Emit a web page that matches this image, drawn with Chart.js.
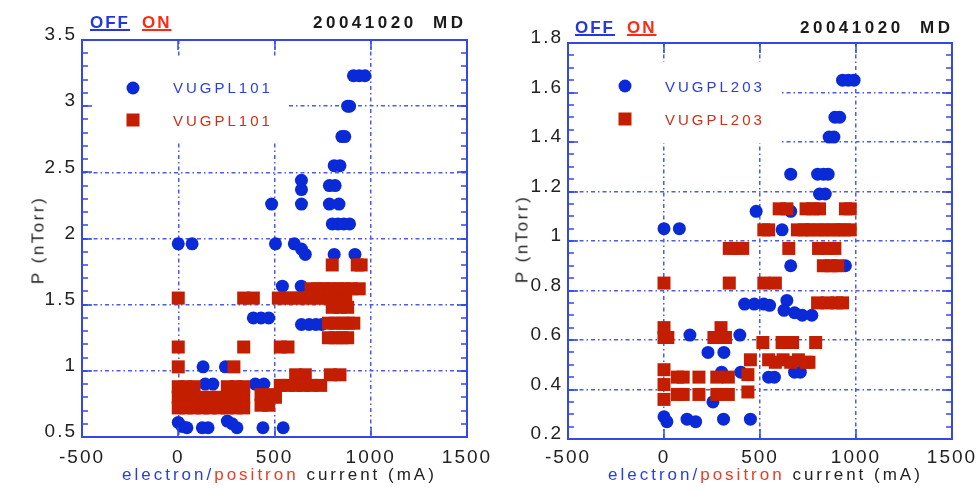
<!DOCTYPE html>
<html>
<head>
<meta charset="utf-8">
<script src="https://cdn.jsdelivr.net/npm/chart.js@4.4.1/dist/chart.umd.min.js"></script>
<style>
  body { margin: 0; width: 980px; height: 492px; overflow: hidden; position: relative; background: #fff;
         font-family: "Liberation Sans", Arial, sans-serif; }
  canvas { position: absolute; top: 0; }
  .t { position: absolute; white-space: pre; line-height: 1; }
</style>
</head>
<body>
<canvas id="left" width="490" height="492" style="left:0"></canvas>
<canvas id="right" width="490" height="492" style="left:490px"></canvas>
<script>
// ---- data: [current (mA), P (nTorr)] ----
const off101 = [
  [910,3.23],[940,3.23],[970,3.23],
  [880,3.0],[890,3.0],
  [850,2.77],[865,2.77],
  [810,2.55],[840,2.55],
  [640,2.44],[640,2.37],[785,2.40],[815,2.40],
  [485,2.26],[640,2.26],[785,2.26],[835,2.26],
  [800,2.11],[830,2.11],[860,2.11],[890,2.11],
  [0,1.96],[72,1.96],[505,1.96],[603,1.96],[640,1.92],[660,1.88],
  [810,1.88],[918,1.88],
  [541,1.64],[639,1.64],
  [390,1.40],[430,1.40],[470,1.40],
  [640,1.35],[680,1.35],[715,1.35],[745,1.35],
  [129,1.03],[245,1.03],
  [140,0.90],[180,0.90],[400,0.90],[445,0.90],
  [0,0.61],[20,0.58],[45,0.57],[125,0.57],[155,0.57],
  [255,0.62],[280,0.60],[305,0.57],[440,0.57],[545,0.57]
];
const on101 = [
  [800,1.80],[930,1.80],[950,1.80],
  [0,1.55],[340,1.55],[390,1.55],
  [520,1.55],[555,1.55],[590,1.55],[625,1.55],[660,1.55],[695,1.55],
  [730,1.55],[765,1.55],[800,1.55],[835,1.55],[870,1.55],
  [690,1.62],[725,1.62],[760,1.62],[795,1.62],[830,1.62],[865,1.62],[900,1.62],[940,1.62],
  [800,1.48],[840,1.48],[880,1.48],
  [780,1.36],[815,1.36],[850,1.36],[885,1.36],[912,1.36],
  [780,1.25],[815,1.25],[850,1.25],[880,1.25],
  [0,1.18],[340,1.18],[530,1.18],[570,1.18],
  [0,1.03],[289,1.03],
  [610,0.97],[660,0.97],[790,0.97],[840,0.97],
  [530,0.89],[570,0.89],[610,0.89],[650,0.89],[690,0.89],[740,0.89],
  [0,0.88],[40,0.88],[82,0.88],[255,0.88],[300,0.88],[340,0.88],
  [0,0.80],[40,0.80],[82,0.80],[125,0.80],[165,0.80],[210,0.80],[255,0.80],[300,0.80],[340,0.80],
  [430,0.82],[470,0.82],[505,0.80],
  [0,0.72],[40,0.72],[82,0.72],[125,0.72],[165,0.72],[210,0.72],[255,0.72],[300,0.72],[340,0.72],
  [430,0.74],[470,0.74]
];
const off203 = [
  [930,1.65],[960,1.65],[990,1.65],
  [890,1.50],[915,1.50],
  [860,1.42],[885,1.42],
  [660,1.27],[800,1.27],[830,1.27],[855,1.27],
  [810,1.19],[840,1.19],
  [480,1.12],[660,1.12],
  [0,1.05],[80,1.05],[615,1.045],[745,1.045],[910,1.045],
  [660,0.90],[945,0.90],
  [420,0.745],[470,0.745],[520,0.745],[550,0.74],
  [640,0.76],[625,0.72],[680,0.71],[720,0.70],[770,0.70],
  [135,0.62],[395,0.62],
  [229,0.55],[312,0.55],
  [300,0.47],[400,0.47],
  [545,0.45],[575,0.45],[680,0.47],[710,0.47],
  [255,0.35],
  [0,0.29],[15,0.27],[120,0.28],[165,0.27],[310,0.28],[450,0.28]
];
const on203 = [
  [600,1.13],[640,1.13],[740,1.13],[775,1.13],[810,1.13],[945,1.13],[970,1.13],
  [520,1.045],[545,1.045],[695,1.045],[730,1.045],[765,1.045],[800,1.045],
  [835,1.045],[870,1.045],[905,1.045],[940,1.045],[970,1.045],
  [340,0.97],[375,0.97],[410,0.97],[650,0.97],[805,0.97],[850,0.97],[890,0.97],
  [830,0.90],[870,0.90],[905,0.90],
  [0,0.83],[340,0.83],[520,0.83],[580,0.83],
  [800,0.75],[850,0.75],[900,0.75],[930,0.75],
  [0,0.65],[0,0.61],[20,0.61],
  [297,0.65],[260,0.61],[290,0.61],[320,0.61],
  [515,0.59],[615,0.59],[670,0.59],[790,0.59],
  [450,0.52],
  [545,0.52],[580,0.51],[620,0.52],[660,0.51],[700,0.52],[740,0.51],[755,0.51],
  [0,0.48],[0,0.42],[0,0.36],
  [70,0.45],[100,0.45],[70,0.38],[100,0.38],
  [182,0.45],[182,0.38],
  [275,0.45],[335,0.45],[275,0.38],[335,0.38],
  [437,0.46],[437,0.39]
];

const xTicks = [-500, 0, 500, 1000, 1500];
const yTicks101 = [0.5, 1, 1.5, 2, 2.5, 3, 3.5];
const yTicks203 = [0.2, 0.4, 0.6, 0.8, 1, 1.2, 1.4, 1.6, 1.8];

const BLUE = '#0a2ad8', RED = '#c41e00';
const AXIS = '#3448e4', GRID = '#4a5ce8', TXT = '#222';
const FONT = '"Liberation Sans", Arial, sans-serif';

// white legend panel under the points; inward ticks, frame and legend markers on top
function boxPlugin(yT, minor, panel, mark) {
  return {
    id: 'box',
    beforeDraw(chart) { chart.ctx.letterSpacing = '2px'; },
    beforeDatasetsDraw(chart) {
      const ctx = chart.ctx;
      ctx.save();
      ctx.fillStyle = '#fff';
      ctx.fillRect(panel[0], panel[1], panel[2] - panel[0], panel[3] - panel[1]);
      ctx.restore();
    },
    afterDraw(chart) {
      const ctx = chart.ctx;
      const a = chart.chartArea;
      const x = chart.scales.x, y = chart.scales.y;
      ctx.save();
      ctx.fillStyle = AXIS;
      const n = Math.round((yT[yT.length - 1] - yT[0]) / minor);
      for (let i = 0; i <= n; i++) {
        const p = Math.round(y.getPixelForValue(yT[0] + i * minor));
        ctx.fillRect(a.left, p - 0.75, 6, 1.5);
        ctx.fillRect(a.right - 6, p - 0.75, 6, 1.5);
      }
      yT.forEach(v => {
        const p = Math.round(y.getPixelForValue(v));
        ctx.fillRect(a.left, p - 0.75, 10, 1.5);
        ctx.fillRect(a.right - 10, p - 0.75, 10, 1.5);
      });
      xTicks.forEach(v => {
        const p = Math.round(x.getPixelForValue(v));
        ctx.fillRect(p - 0.75, a.top, 1.5, 10);
        ctx.fillRect(p - 0.75, a.bottom - 10, 1.5, 10);
      });
      ctx.strokeStyle = AXIS;
      ctx.setLineDash([]);
      ctx.lineWidth = 2;
      ctx.strokeRect(a.left, a.top, a.right - a.left, a.bottom - a.top);
      ctx.fillStyle = BLUE;
      ctx.beginPath();
      ctx.arc(mark[0], mark[1], 6.5, 0, Math.PI * 2);
      ctx.fill();
      ctx.fillStyle = RED;
      ctx.fillRect(mark[0] - 6.5, mark[2] - 6.5, 13, 13);
      ctx.restore();
    }
  };
}

function fmt(v) { return String(Math.round(v * 100) / 100); }

function makeChart(id, off, on, yT, minor, area, panel, mark) {
  return new Chart(document.getElementById(id), {
    type: 'scatter',
    data: {
      datasets: [
        { label: 'ON', data: on.map(p => ({ x: p[0], y: p[1] })), pointStyle: 'rect',
          pointRadius: 9.2, backgroundColor: RED, borderWidth: 0 },
        { label: 'OFF', data: off.map(p => ({ x: p[0], y: p[1] })), pointStyle: 'circle',
          pointRadius: 6.5, backgroundColor: BLUE, borderWidth: 0 }
      ]
    },
    options: {
      responsive: false,
      animation: false,
      events: [],
      layout: { padding: { top: area.top, right: 490 - area.right, left: 0, bottom: 0 } },
      plugins: { legend: { display: false }, tooltip: { enabled: false } },
      scales: {
        x: {
          type: 'linear', min: -500, max: 1500,
          afterBuildTicks: s => { s.ticks = xTicks.map(v => ({ value: v })); },
          afterFit: s => { s.height = 492 - area.bottom; s.paddingLeft = 0; s.paddingRight = 0; },
          grid: { color: GRID, lineWidth: 1.5, drawTicks: false },
          border: { display: false, dash: [4, 3, 1.5, 3] },
          ticks: { padding: area.xPad, color: TXT, font: { family: FONT, size: 19 },
                   autoSkip: false, maxRotation: 0, callback: v => fmt(v) }
        },
        y: {
          type: 'linear', min: yT[0], max: yT[yT.length - 1],
          afterBuildTicks: s => { s.ticks = yT.map(v => ({ value: v })); },
          afterFit: s => { s.width = area.left; s.paddingTop = 0; s.paddingBottom = 0; },
          grid: { color: GRID, lineWidth: 1.5, drawTicks: false },
          border: { display: false, dash: [4, 3, 1.5, 3] },
          ticks: { padding: 5, labelOffset: -5, color: TXT, font: { family: FONT, size: 19 },
                   autoSkip: false, callback: v => fmt(v) }
        }
      }
    },
    plugins: [boxPlugin(yT, minor, panel, mark)]
  });
}

makeChart('left', off101, on101, yTicks101, 0.1,
  { left: 82, right: 467, top: 40, bottom: 437, xPad: 9 },
  [83, 58, 287, 142], [133, 88, 120]);
makeChart('right', off203, on203, yTicks203, 0.05,
  { left: 78, right: 462, top: 43, bottom: 439, xPad: 7 },
  [79, 62, 290, 143], [135, 86, 119]);

// ---- text ----
function put(parts, x, base, size, extra) {
  const d = document.createElement('div');
  d.className = 't';
  d.style.left = x + 'px';
  d.style.top = (base - 0.85 * size) + 'px';
  d.style.fontSize = size + 'px';
  Object.assign(d.style, extra || {});
  parts.forEach(([txt, color, st]) => {
    const s = document.createElement('span');
    s.textContent = txt;
    s.style.color = color;
    Object.assign(s.style, st || {});
    d.appendChild(s);
  });
  document.body.appendChild(d);
}
function vtitle(txt, cx, cy) {
  const d = document.createElement('div');
  d.className = 't';
  d.textContent = txt;
  Object.assign(d.style, { left: cx + 'px', top: cy + 'px', fontSize: '17px', letterSpacing: '2.5px',
    color: TXT, transform: 'translate(-50%,-50%) rotate(-90deg)' });
  document.body.appendChild(d);
}
const under = { textDecoration: 'underline', textDecorationThickness: '2px' };
const head = { fontWeight: 'bold', letterSpacing: '2px' };

[[0, 28, 'VUGPL101', 173, 93, 126], [490, 33, 'VUGPL203', 665, 92, 125]].forEach(([dx, hb, name, lx, b1, b2]) => {
  put([['OFF', '#2437e0', under]], (dx ? 575 : 90), hb, 17, head);
  put([['ON', '#ff2a14', under]], (dx ? 627 : 142), hb, 17, head);
  put([['20041020  MD', '#1a1a1a']], (dx ? 800 : 313), hb, 17, { fontWeight: 'bold', letterSpacing: '3.5px' });
  put([[name, '#2a3ee0']], lx, b1, 15, { letterSpacing: '3px' });
  put([[name, '#c8321a']], lx, b2, 15, { letterSpacing: '3px' });
  put([['electron/', '#2a3ee0'], ['positron', '#f03a22'], [' current (mA)', TXT]],
      (dx ? 608 : 122), 480, 17, { letterSpacing: '3px' });
});
vtitle('P (nTorr)', 38, 240);
vtitle('P (nTorr)', 522, 239);
</script>
</body>
</html>
